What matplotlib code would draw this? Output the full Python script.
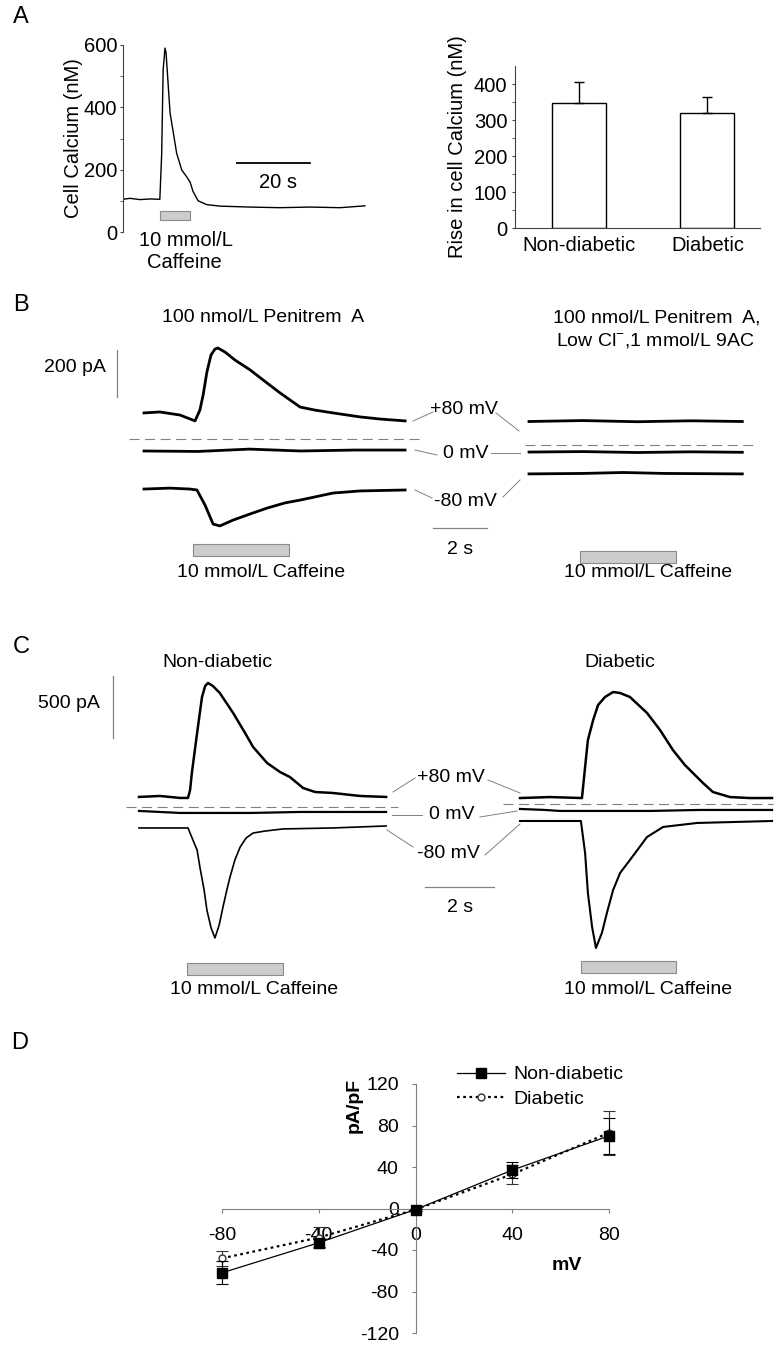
import numpy as np
import matplotlib
matplotlib.use('Agg')
import matplotlib.pyplot as plt
from matplotlib.lines import Line2D
from matplotlib.patches import Rectangle

plt.rcParams['font.family'] = ['Liberation Sans', 'DejaVu Sans']
plt.rcParams['mathtext.fontset'] = 'custom'
plt.rcParams['mathtext.rm'] = 'Liberation Sans'
plt.rcParams['axes.unicode_minus'] = False

# ---------------- data ----------------
# A: calcium transient (s, nM)
ca_t = [0, 1.9, 4.7, 7.4, 10.1, 10.6, 11.0, 11.3, 11.5, 11.8, 12.0, 12.9, 13.8, 14.7, 16.1,
        17.4, 18.4, 19.2, 20.6, 22.9, 26.6, 34.8, 43.0, 51.2, 59.5, 66.3]
ca_nm = [105, 108, 104, 106, 105, 250, 520, 560, 590, 575, 540, 382, 318, 253, 199,
         178, 160, 130, 100, 88, 83, 80, 78, 80, 78, 84]
caff_a = (10.1, 18.4)

# A: rise in calcium
groups = ['Non-diabetic', 'Diabetic']
rise = [348, 320]
rise_err = [57, 43]

# B left: 100 nmol/L penitrem A (s, pA)
b_p80_t = [0, 0.59, 1.33, 1.89, 2.07, 2.19, 2.33, 2.48, 2.63, 2.74, 3.0, 3.37, 3.93, 4.56,
           5.04, 5.41, 5.78, 6.33, 7.0, 8.0, 8.74, 9.67]
b_p80_i = [111, 115, 102, 77, 123, 187, 285, 357, 383, 387, 370, 336, 294, 238,
           196, 166, 136, 123, 111, 94, 85, 77]
b_0_t = [0, 2.0, 3.9, 5.8, 7.8, 9.67]
b_0_i = [-51, -53, -43, -51, -47, -47]
b_m80_t = [0, 0.96, 1.70, 1.96, 2.26, 2.56, 2.81, 3.30, 3.93, 4.56, 5.22, 5.78, 7.0, 8.0, 9.67]
b_m80_i = [-213, -209, -213, -217, -281, -362, -370, -345, -319, -294, -272, -260, -230, -221, -217]
caff_b_left = (1.81, 5.37)

# B right: penitrem A + low Cl- + 9AC
br_p80_t = [0, 2.0, 4.0, 6.0, 7.9]
br_p80_i = [100, 104, 99, 103, 100]
br_0_t = [0, 2.0, 4.0, 6.0, 7.9]
br_0_i = [-30, -28, -32, -29, -31]
br_m80_t = [0, 2.0, 3.5, 5.0, 7.9]
br_m80_i = [-123, -121, -117, -121, -123]
caff_b_right = (1.89, 5.44)

# C left: non-diabetic
c_p80_t = [0, 0.6, 1.17, 1.4, 1.46, 1.51, 1.66, 1.8, 1.89, 1.97, 2.11, 2.31, 2.69, 3.03, 3.26,
           3.66, 4.03, 4.31, 4.69, 5.03, 5.54, 6.31, 7.06]
c_p80_i = [81, 89, 73, 73, 137, 274, 597, 887, 976, 1000, 976, 919, 758, 597, 484,
           355, 282, 242, 153, 121, 113, 89, 81]
c_0_t = [0, 0.6, 1.17, 3.2, 4.6, 7.06]
c_0_i = [-32, -40, -48, -48, -40, -40]
c_m80_t = [0, 1.4, 1.54, 1.66, 1.74, 1.86, 1.94, 2.06, 2.17, 2.29, 2.4, 2.51, 2.6, 2.74, 2.89,
           3.06, 3.26, 3.6, 4.11, 5.54, 7.06]
c_m80_i = [-169, -169, -266, -347, -484, -669, -831, -976, -1056, -952, -806, -669, -565, -427, -323,
           -250, -210, -194, -177, -169, -153]
caff_c_left = (1.37, 4.11)

# C right: diabetic
d_p80_t = [0, 0.86, 1.77, 1.86, 1.94, 2.09, 2.23, 2.43, 2.66, 2.86, 3.14, 3.63, 4.0, 4.37,
           4.71, 4.94, 5.23, 5.51, 6.0, 6.57, 7.2]
d_p80_i = [48, 56, 48, 298, 516, 677, 798, 863, 903, 895, 863, 734, 597, 435,
           315, 250, 169, 97, 56, 48, 48]
d_0_t = [0, 0.71, 1.14, 3.71, 5.14, 7.2]
d_0_i = [-40, -48, -56, -56, -48, -48]
d_m80_t = [0, 1.74, 1.86, 1.94, 2.06, 2.17, 2.34, 2.49, 2.66, 2.86, 3.14, 3.63, 4.09, 5.06, 7.2]
d_m80_i = [-137, -137, -395, -718, -992, -1161, -1040, -871, -694, -556, -452, -266, -185, -153, -137]
caff_c_right = (1.74, 4.46)

# D: current density vs voltage
mv = [-80, -40, 0, 40, 80]
nd_dens = [-62, -33, -1, 37, 70]
nd_err = [11, 4, 1, 8, 17]
db_dens = [-48, -28, -1, 33, 73]
db_err = [7, 10, 1, 9, 21]

# ---------------- layout helpers (pixel positions) ----------------
W, H = 776, 1345
fig = plt.figure(figsize=(W / 100, H / 100), dpi=100)


def px_axes(x0, y0, x1, y1):
    return fig.add_axes([x0 / W, 1 - y1 / H, (x1 - x0) / W, (y1 - y0) / H])


def ftext(x, y, s, **kw):
    kw.setdefault('ha', 'center')
    kw.setdefault('va', 'center')
    fig.text(x / W, 1 - y / H, s, **kw)


def fline(xs, ys, **kw):
    fig.add_artist(Line2D([x / W for x in xs], [1 - y / H for y in ys], **kw))


def trace_axes(box, origin, sx, sy):
    x0, y0, x1, y1 = box
    ox, oy = origin
    ax = px_axes(x0, y0, x1, y1)
    ax.set_xlim((x0 - ox) / sx, (x1 - ox) / sx)
    ax.set_ylim((oy - y1) / sy, (oy - y0) / sy)
    ax.axis('off')
    return ax


def caffeine(ax, span, y0, h):
    ax.add_patch(Rectangle((span[0], y0), span[1] - span[0], h, facecolor='#cccccc',
                           edgecolor='#8a8a8a', lw=0.8, clip_on=False))


GREY = '#808080'
FS = 14
FA = 14.5

# ---------------- panel A ----------------
ftext(21, 17, 'A', fontsize=17)
axa = px_axes(123, 45, 370, 232)
axa.plot(ca_t, ca_nm, color='k', lw=1.0)
axa.set_xlim(0, 67.7)
axa.set_ylim(0, 600)
for s in ['top', 'right', 'bottom']:
    axa.spines[s].set_visible(False)
axa.spines['left'].set_color('#444444')
axa.set_xticks([])
axa.set_yticks([0, 200, 400, 600])
axa.set_yticks([100, 300, 500], minor=True)
axa.tick_params(axis='y', which='both', length=2.5, pad=1.5, labelsize=FA, color='#444444')
axa.set_ylabel('Cell Calcium (nM)', fontsize=FA, labelpad=1)
caffeine(axa, caff_a, 38, 29)
axa.plot([31.2, 51.2], [221, 221], color='k', lw=1.3)
axa.text(42.5, 160, '20 s', ha='center', va='center', fontsize=FA)
ftext(186, 241, '10 mmol/L', fontsize=FA)
ftext(184, 262, 'Caffeine', fontsize=FA)

axr = px_axes(515, 66, 760, 228)
xpos = np.arange(len(groups))
axr.bar(xpos, rise, width=0.42, color='white', edgecolor='k', lw=1.0)
axr.errorbar(xpos, rise, yerr=[[0] * len(rise), rise_err], fmt='none', ecolor='k',
             elinewidth=1.0, capsize=3.5, capthick=1.0)
axr.set_xlim(-0.5, 1.41)
axr.set_ylim(0, 450)
axr.spines['top'].set_visible(False)
axr.spines['right'].set_visible(False)
axr.spines['left'].set_color('#444444')
axr.spines['bottom'].set_color('#444444')
axr.set_xticks(xpos)
axr.set_xticklabels(groups)
axr.set_yticks([0, 100, 200, 300, 400])
axr.set_yticks([50, 150, 250, 350], minor=True)
axr.tick_params(axis='y', which='both', length=2.5, pad=3, labelsize=FA, color='#444444')
axr.tick_params(axis='x', length=0, pad=6, labelsize=FA)
axr.set_ylabel('Rise in cell Calcium (nM)', fontsize=FA, labelpad=5)

# ---------------- panel B ----------------
ftext(21, 305, 'B', fontsize=17)
ftext(263, 318, '100 nmol/L Penitrem  A', fontsize=FS)
ftext(657, 318, '100 nmol/L Penitrem  A,', fontsize=FS)
ftext(655, 341, 'Low Cl$^{-}$,1 mmol/L 9AC', fontsize=FS)

axbl = trace_axes((100, 330, 520, 590), (144, 439), 27, 0.235)
axbl.plot(b_p80_t, b_p80_i, color='k', lw=2.0)
axbl.plot(b_0_t, b_0_i, color='k', lw=2.0)
axbl.plot(b_m80_t, b_m80_i, color='k', lw=2.0)
axbl.plot([-0.56, 10.2], [0, 0], color=GREY, lw=0.8, ls=(0, (9, 5)))
axbl.plot([-1.0, -1.0], [179, 379], color=GREY, lw=0.9)
axbl.plot([10.7, 12.7], [-379, -379], color=GREY, lw=0.9)
caffeine(axbl, caff_b_left, -498, 51)
ftext(75, 368, '200 pA', fontsize=FS)
ftext(460, 550, '2 s', fontsize=FS)
ftext(261, 572, '10 mmol/L Caffeine', fontsize=FS)

axbr = trace_axes((520, 400, 770, 590), (529, 445), 27, 0.235)
axbr.plot(br_p80_t, br_p80_i, color='k', lw=2.0)
axbr.plot(br_0_t, br_0_i, color='k', lw=2.0)
axbr.plot(br_m80_t, br_m80_i, color='k', lw=2.0)
axbr.plot([-0.15, 8.37], [0, 0], color=GREY, lw=0.8, ls=(0, (9, 5)))
caffeine(axbr, caff_b_right, -502, 51)
ftext(648, 572, '10 mmol/L Caffeine', fontsize=FS)

# voltage labels and connectors
ftext(464, 410, '+80 mV', fontsize=FS)
ftext(466, 453, '0 mV', fontsize=FS)
ftext(465, 502, '-80 mV', fontsize=FS)
kw = dict(color=GREY, lw=0.7)
fline([413, 433], [421, 412], **kw)
fline([496, 519], [413, 431], **kw)
fline([415, 437], [450, 455], **kw)
fline([491, 520], [453, 453], **kw)
fline([415, 432], [490, 498], **kw)
fline([503, 520], [497, 480], **kw)

# ---------------- panel C ----------------
ftext(21, 647, 'C', fontsize=17)
ftext(217, 662, 'Non-diabetic', fontsize=FS)
ftext(620, 662, 'Diabetic', fontsize=FS)

axcl = trace_axes((100, 670, 495, 1000), (139, 807), 35, 0.124)
axcl.plot(c_p80_t, c_p80_i, color='k', lw=1.8)
axcl.plot(c_0_t, c_0_i, color='k', lw=1.6)
axcl.plot(c_m80_t, c_m80_i, color='k', lw=1.2)
axcl.plot([-0.37, 7.4], [0, 0], color=GREY, lw=0.8, ls=(0, (9, 5)))
axcl.plot([-0.74, -0.74], [556, 1056], color=GREY, lw=0.9)
axcl.plot([8.17, 10.17], [-645, -645], color=GREY, lw=0.9)
caffeine(axcl, caff_c_left, -1355, 97)
ftext(69, 703, '500 pA', fontsize=FS)
ftext(460, 907, '2 s', fontsize=FS)
ftext(254, 990, '10 mmol/L Caffeine', fontsize=FS)

axcr = trace_axes((495, 670, 776, 1000), (520, 804), 35, 0.124)
axcr.plot(d_p80_t, d_p80_i, color='k', lw=1.8)
axcr.plot(d_0_t, d_0_i, color='k', lw=1.6)
axcr.plot(d_m80_t, d_m80_i, color='k', lw=1.5)
axcr.plot([-0.49, 7.23], [0, 0], color=GREY, lw=0.8, ls=(0, (9, 5)))
caffeine(axcr, caff_c_right, -1363, 97)
ftext(648, 990, '10 mmol/L Caffeine', fontsize=FS)

ftext(451, 778, '+80 mV', fontsize=FS)
ftext(452, 815, '0 mV', fontsize=FS)
ftext(448, 854, '-80 mV', fontsize=FS)
fline([393, 415], [792, 778], **kw)
fline([488, 520], [780, 793], **kw)
fline([392, 422], [815, 815], **kw)
fline([480, 517], [817, 811], **kw)
fline([387, 413], [830, 847], **kw)
fline([485, 520], [855, 824], **kw)

# ---------------- panel D ----------------
ftext(20, 1043, 'D', fontsize=17)
axd = px_axes(222, 1084, 609, 1333)
axd.errorbar(mv, nd_dens, yerr=nd_err, fmt='-s', color='k', ms=7, lw=0.9,
             elinewidth=0.8, capsize=4, capthick=0.8, clip_on=False, zorder=3)
axd.errorbar(mv, db_dens, yerr=db_err, fmt='o', color='#333333', mfc='white', ms=5,
             elinewidth=0.8, capsize=4, capthick=0.8, clip_on=False, zorder=2)
axd.plot(mv, db_dens, color='k', lw=1.6, ls=(0, (1.2, 1.6)), zorder=2)
axd.set_xlim(-80, 80)
axd.set_ylim(-120, 120)
axd.spines['top'].set_visible(False)
axd.spines['right'].set_visible(False)
axd.spines['left'].set_position(('data', 0))
axd.spines['bottom'].set_position(('data', 0))
axd.spines['left'].set_color(GREY)
axd.spines['bottom'].set_color(GREY)
axd.set_xticks(mv)
axd.set_yticks([-120, -80, -40, 0, 40, 80, 120])
axd.tick_params(axis='x', length=3, pad=10, labelsize=FS, color=GREY)
axd.tick_params(axis='y', length=3, pad=9, labelsize=FS, color=GREY)
ftext(354, 1105, 'pA/pF', fontsize=FS, fontweight='bold', rotation=90)
ftext(567, 1266, 'mV', fontsize=FS, fontweight='bold')
handles = [Line2D([], [], color='k', lw=0.9, marker='s', ms=7),
           Line2D([], [], color='k', lw=1.6, ls=(0, (1.2, 1.6)), marker='o', ms=5,
                  mfc='white', mec='#333333')]
fig.legend(handles, ['Non-diabetic', 'Diabetic'], loc='upper left',
           bbox_to_anchor=(447 / W, 1 - 1056 / H), frameon=False, fontsize=FS,
           borderpad=0, handlelength=2.5, handletextpad=0.4, labelspacing=0.35)

fig.savefig('out.png', dpi=100)
